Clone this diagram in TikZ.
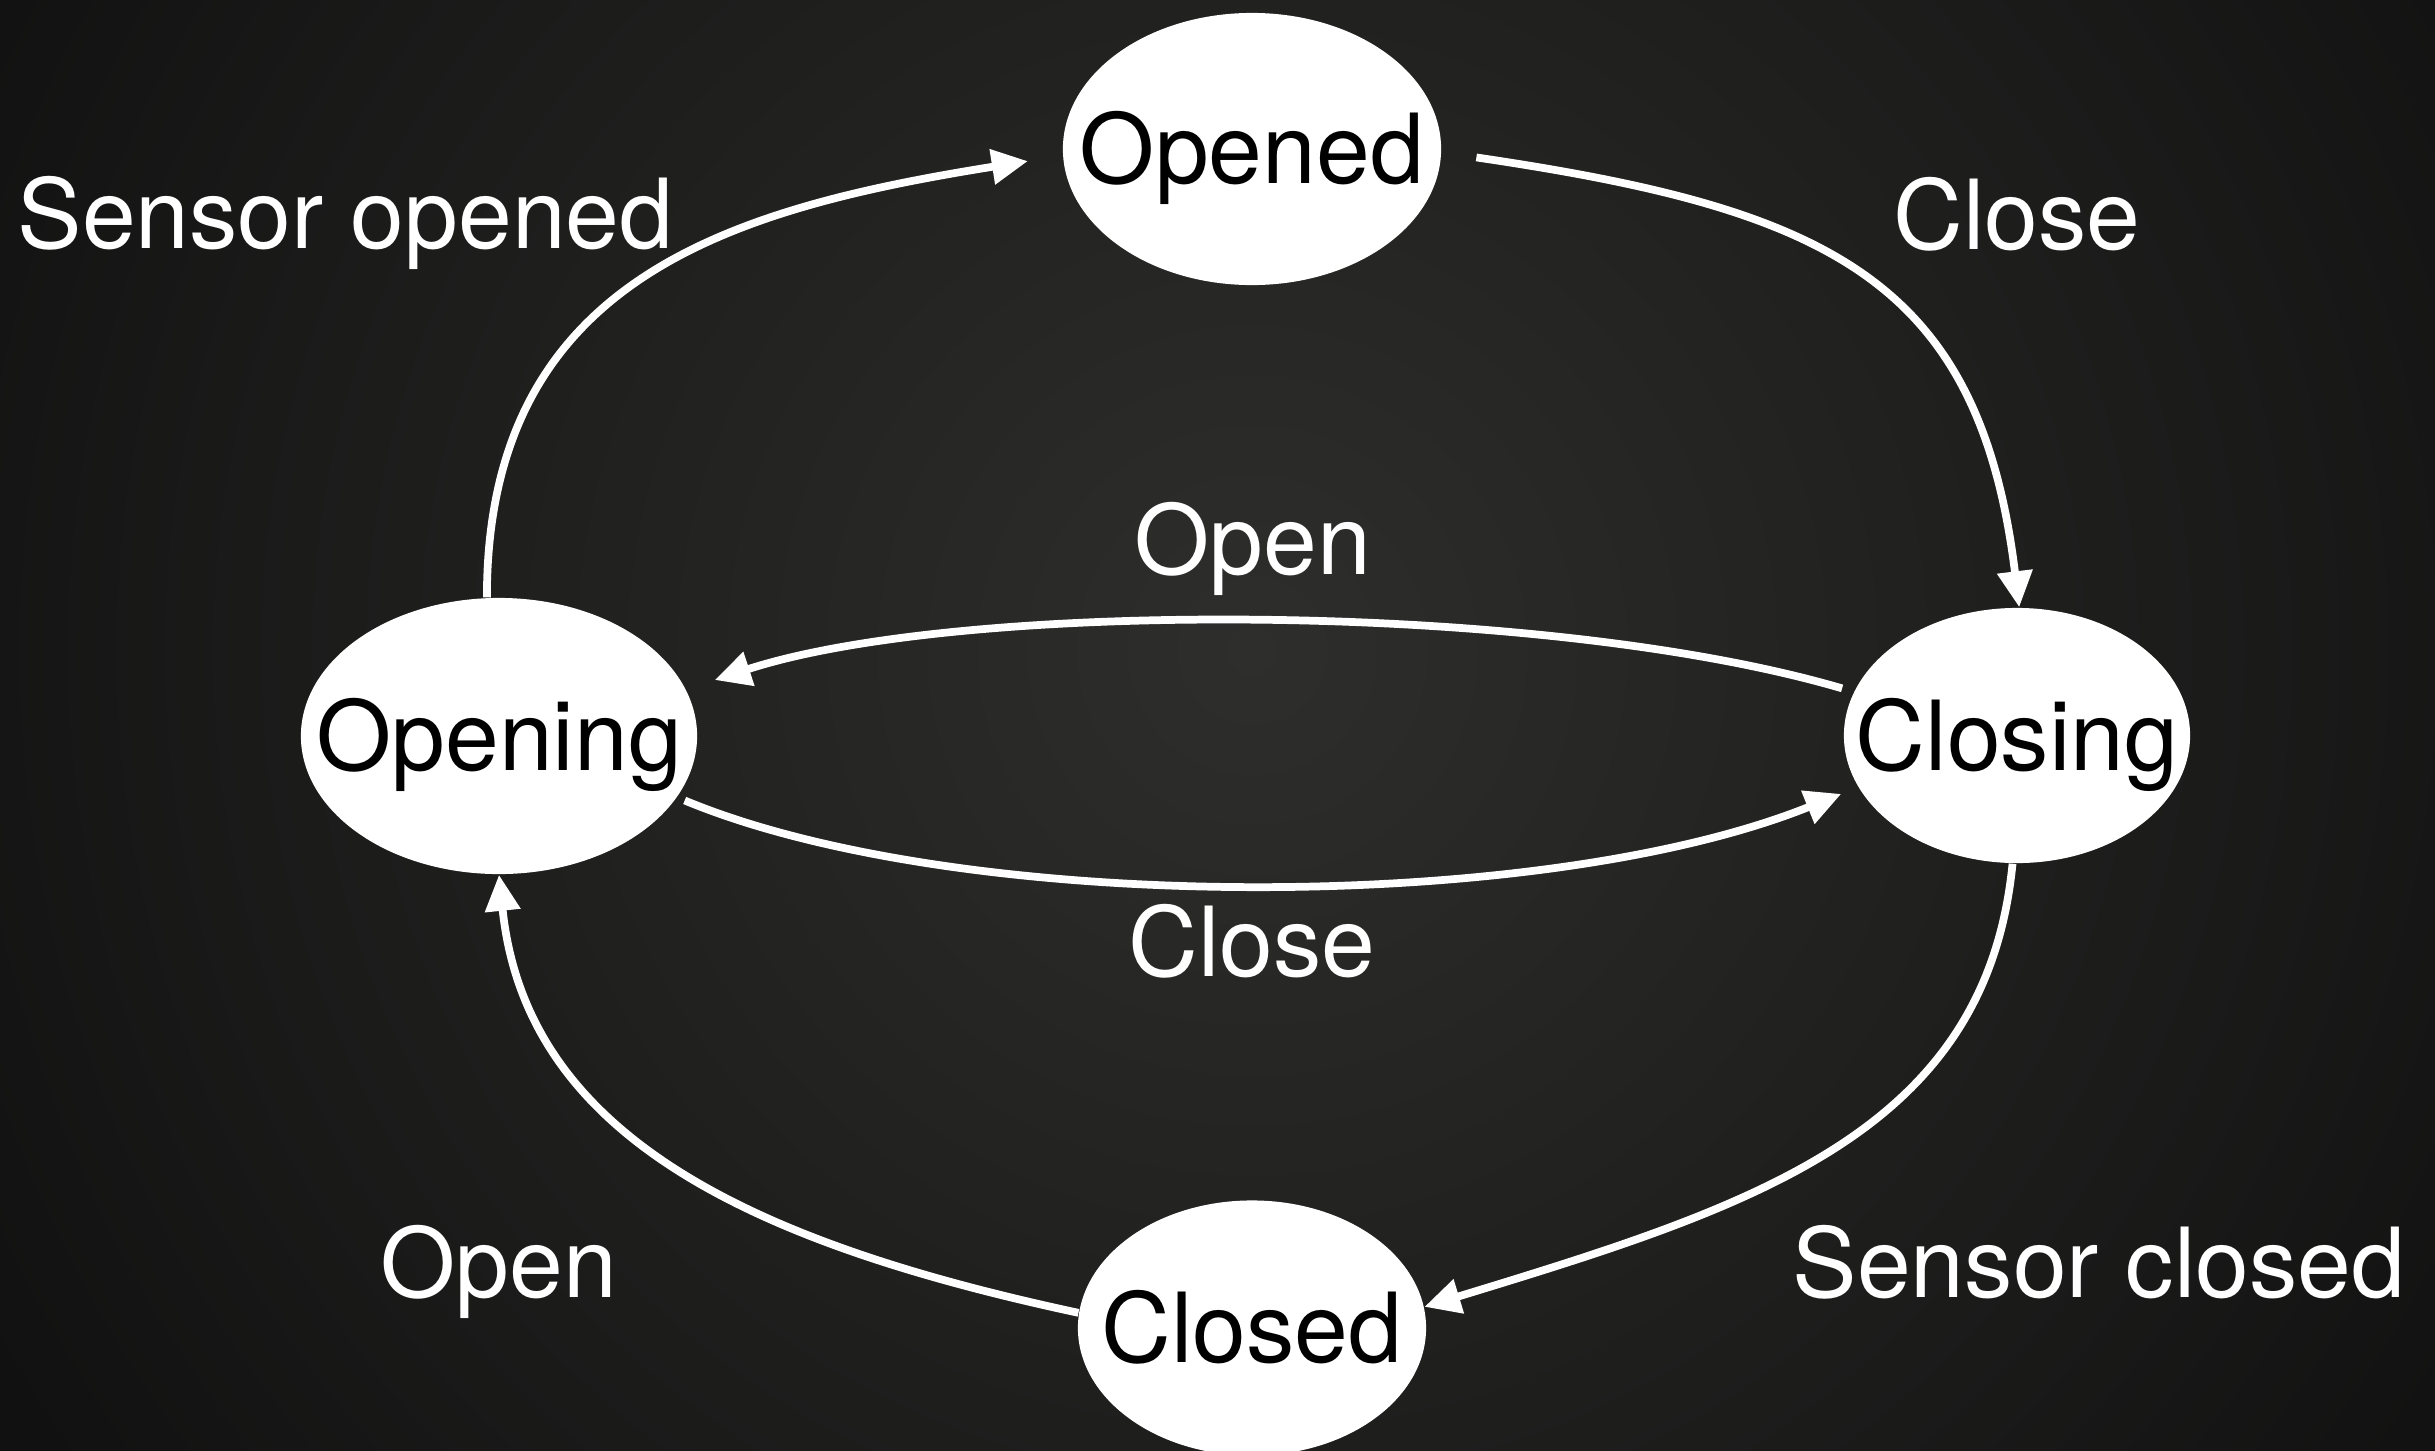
\documentclass[tikz,border=0pt]{standalone}
\usepackage{fontspec}
\setmainfont{TeX Gyre Heros}
\usetikzlibrary{arrows.meta,shapes.geometric}
\definecolor{bgin}{RGB}{46,47,44}
\definecolor{bgout}{RGB}{17,17,17}
\begin{document}
\begin{tikzpicture}[x=0.01cm,y=-0.01cm,
  state/.style={ellipse, fill=white, draw=none, inner sep=0pt},
  stxt/.style={font=\fontsize{27.5}{30}\selectfont, text=black, inner sep=0pt, text height=19.7pt, text depth=0pt},
  lbl/.style={font=\fontsize{27.5}{30}\selectfont, text=white, inner sep=0pt, anchor=base},
  edge/.style={draw=white, line width=2.2pt, -{Triangle[length=0.36cm,width=0.34cm]}}]
\useasboundingbox (0,0) rectangle (2435,1451);
\begin{scope}
  \clip (0,0) rectangle (2435,1451);
  \fill[bgout] (0,0) rectangle (2435,1451);
  \shade[inner color=bgin, outer color=bgout] (1252,650) circle (1450);
\end{scope}

% states
\node[state, minimum width=3.78cm, minimum height=2.72cm] (opened) at (1252,149) {};
\node[state, minimum width=3.96cm, minimum height=2.76cm] (opening) at (499,736) {};
\node[state, minimum width=3.46cm, minimum height=2.55cm] (closing) at (2017,735.5) {};
\node[state, minimum width=3.48cm, minimum height=2.55cm] (closed) at (1252,1328) {};

\node[stxt] (openedt) at (opened) {Opened};
\node[stxt] (openingt) at (opening) {Opening};
\node[stxt] (closingt) at (closing) {Closing};
\node[stxt] (closedt) at (closed) {Closed};

% transitions
\draw[edge, shorten >=0.35cm] (opening.95) .. controls (487,280) and (728,209) .. (opened.182.3);
\draw[edge, shorten <=0.35cm] (opened.-1.5) .. controls (1826,209) and (1979,278) .. (closing.89);
\draw[edge] (closing.268) .. controls (1986,1133) and (1755,1206) .. (closed.7.6);
\draw[edge] (closed.175.7) .. controls (748,1242) and (526,1135) .. (opening.270);
\draw[edge, shorten <=0.12cm, shorten >=0.3cm] (closing.165.4) .. controls (1540,600) and (960,600) .. (opening.14.6);
\draw[edge, shorten <=0.08cm, shorten >=0.18cm] (opening.-19.1) .. controls (960,915) and (1540,915) .. (closing.198.2);

% labels
\node[lbl] (l1) at (345.5,248) {Sensor opened};
\node[lbl] (l2) at (2017,249) {Close};
\node[lbl] (l3) at (1252.5,574) {Open};
\node[lbl] (l4) at (1252,976) {Close};
\node[lbl] (l5) at (499,1297) {Open};
\node[lbl] (l6) at (2099,1297) {Sensor closed};
\end{tikzpicture}
\end{document}
